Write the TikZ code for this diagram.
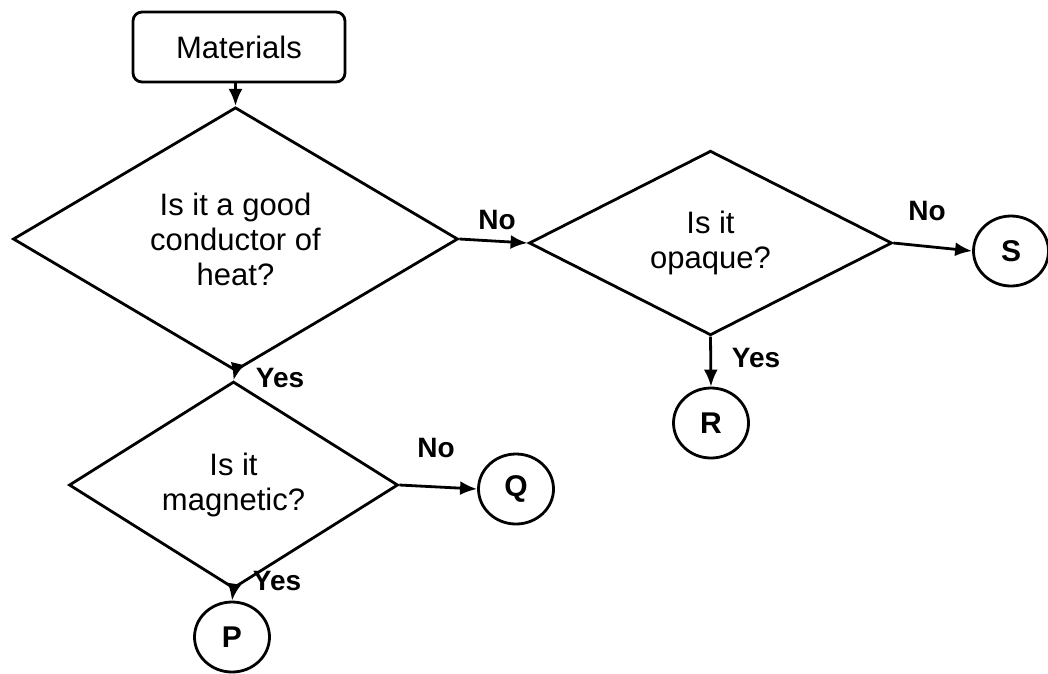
\documentclass[tikz,border=0pt]{standalone}
\usepackage{fontspec}
\setmainfont{Liberation Sans}
\usetikzlibrary{shapes.geometric,arrows.meta}
\begin{document}
\begin{tikzpicture}[x=1pt,y=-1pt,
  line width=2.8pt,
  question/.style={diamond, draw, inner sep=0pt, align=center,
    font=\fontsize{31}{35}\selectfont},
  outcome/.style={ellipse, draw, minimum width=75pt, minimum height=70pt,
    inner sep=0pt, font=\bfseries\fontsize{30}{34}\selectfont},
  startbox/.style={rectangle, rounded corners=9pt, draw,
    minimum width=212pt, minimum height=70pt,
    font=\fontsize{31}{35}\selectfont},
  flow/.style={-{Latex[length=17pt,width=14pt]}},
  answer/.style={font=\bfseries\fontsize{28}{32}\selectfont}]

\useasboundingbox (0,0) rectangle (1048,673);

% start box
\node[startbox] (mat) at (239,47) {Materials};

% decisions
\node[question, minimum width=445pt, minimum height=216pt] (q1) at (235.5,239)
  {Is it a good\\conductor of\\heat?};
\node[question, minimum width=363pt, minimum height=163pt] (q2) at (710.5,243)
  {Is it\\opaque?};
\node[question, minimum width=329pt, minimum height=176pt] (q3) at (233.5,485)
  {Is it\\magnetic?};

% outcomes
\node[outcome] (S) at (1011,251) {S};
\node[outcome] (R) at (711,423) {R};
\node[outcome] (Q) at (516,489) {Q};
\node[outcome] (P) at (232,637) {P};

% connectors
\draw[flow] (q1.north |- mat.south) -- (q1.north);
\draw[flow] (q1.east) -- (q2.west);
\draw[flow] (q2.east) -- (S.west);
\draw[flow] (q2.south) -- (R.north);
\draw[flow] (q1.south) -- (q3.north);
\draw[flow] (q3.east) -- (Q.west);
\draw[flow] (q3.south) -- (P.north);

% branch labels
\node[answer] (no1) at (497,220) {No};
\node[answer] (no2) at (927,211) {No};
\node[answer] (yes1) at (756,358) {Yes};
\node[answer] (yes2) at (280,378) {Yes};
\node[answer] (no3) at (436,448) {No};
\node[answer] (yes3) at (277,581) {Yes};
\end{tikzpicture}
\end{document}
